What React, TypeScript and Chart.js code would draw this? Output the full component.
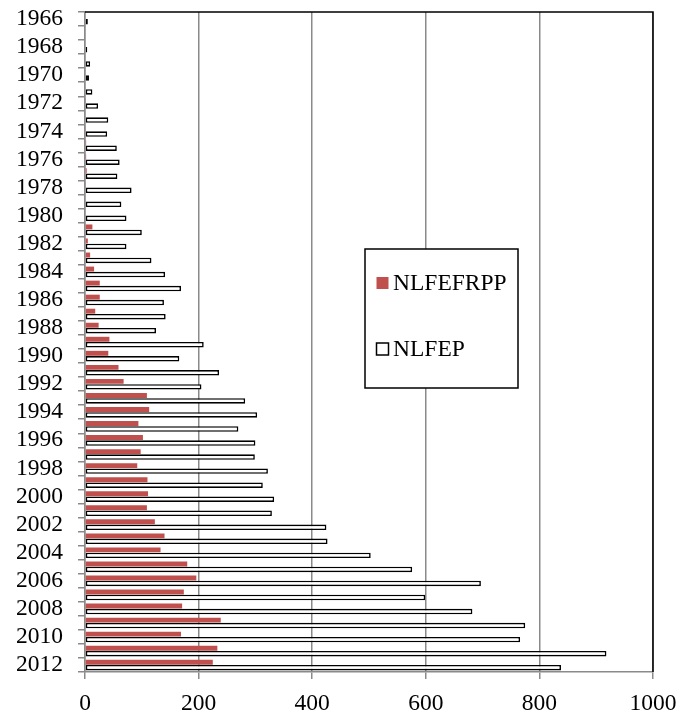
import React, { useEffect, useRef } from 'react';
import { Chart, registerables } from 'chart.js';

Chart.register(...registerables);

const years = [
  '1966', '1967', '1968', '1969', '1970', '1971', '1972', '1973', '1974', '1975',
  '1976', '1977', '1978', '1979', '1980', '1981', '1982', '1983', '1984', '1985',
  '1986', '1987', '1988', '1989', '1990', '1991', '1992', '1993', '1994', '1995',
  '1996', '1997', '1998', '1999', '2000', '2001', '2002', '2003', '2004', '2005',
  '2006', '2007', '2008', '2009', '2010', '2011', '2012',
];

const nlfefrpp = [
  0, 0, 0, 0, 0, 0, 1, 0, 1, 2,
  2, 3, 1, 0, 0, 13, 5, 9, 16, 26,
  26, 18, 24, 43, 41, 59, 68, 109, 113, 94,
  102, 98, 92, 110, 111, 109, 123, 140, 133, 180,
  196, 174, 171, 239, 169, 233, 225,
];

const nlfep = [
  5, 0, 4, 9, 7, 13, 23, 41, 39, 56,
  61, 57, 82, 64, 73, 100, 73, 117, 141, 169,
  139, 142, 125, 209, 166, 236, 205, 282, 303, 270,
  300, 299, 322, 313, 333, 329, 425, 427, 503, 576,
  697, 599, 682, 775, 766, 918, 838,
];

const xTicks = [0, 200, 400, 600, 800, 1000];

const FONT = '"Liberation Serif", "Times New Roman", serif';

const framePlugin = {
  id: 'frameAndLegend',
  afterDraw(chart: any) {
    const { ctx, chartArea } = chart;
    ctx.save();
    ctx.strokeStyle = '#000';
    ctx.lineWidth = 1.5;
    ctx.beginPath();
    ctx.moveTo(chartArea.left, chartArea.top);
    ctx.lineTo(chartArea.right, chartArea.top);
    ctx.lineTo(chartArea.right, chartArea.bottom);
    ctx.stroke();

    const bx = 365, by = 249, bw = 153, bh = 139;
    ctx.fillStyle = '#fff';
    ctx.fillRect(bx, by, bw, bh);
    ctx.strokeStyle = '#000';
    ctx.lineWidth = 1.5;
    ctx.strokeRect(bx, by, bw, bh);

    const ds = chart.data.datasets;
    const rows = [283, 349];
    ctx.font = `23.5px ${FONT}`;
    ctx.textBaseline = 'middle';
    ctx.textAlign = 'left';
    ds.forEach((d: any, i: number) => {
      const cy = rows[i];
      ctx.fillStyle = d.backgroundColor;
      ctx.fillRect(376.5, cy - 6, 12, 12);
      if (d.borderWidth) {
        ctx.strokeStyle = d.borderColor;
        ctx.lineWidth = 1.5;
        ctx.strokeRect(376.5, cy - 6, 12, 12);
      }
      ctx.fillStyle = '#000';
      ctx.fillText(d.label, 393, cy + 1);
    });
    ctx.restore();
  },
};

export default function App() {
  const ref = useRef<HTMLCanvasElement>(null);

  useEffect(() => {
    if (!ref.current) return;
    const chart = new Chart(ref.current, {
      type: 'bar',
      data: {
        labels: years,
        datasets: [
          {
            label: 'NLFEFRPP',
            data: nlfefrpp,
            backgroundColor: '#C0504D',
            borderWidth: 0,
            categoryPercentage: 0.78,
            barPercentage: 0.9,
          },
          {
            label: 'NLFEP',
            data: nlfep,
            backgroundColor: '#ffffff',
            borderColor: '#000000',
            borderWidth: 1.6,
            borderSkipped: false,
            categoryPercentage: 0.78,
            barPercentage: 1.0,
          },
        ],
      },
      options: {
        indexAxis: 'y',
        responsive: false,
        animation: false,
        layout: { padding: { top: 12, right: 37, left: 0, bottom: 0 } },
        plugins: {
          legend: { display: false },
          tooltip: { enabled: false },
        },
        scales: {
          x: {
            min: 0,
            max: 1000,
            afterBuildTicks: (s: any) => {
              s.ticks = xTicks.map((v) => ({ value: v }));
            },
            afterFit: (s: any) => {
              s.height = 42;
              s.paddingLeft = 0;
              s.paddingRight = 0;
            },
            grid: {
              color: '#8a8a8a',
              lineWidth: 1.5,
              drawTicks: true,
              tickLength: 7,
            },
            border: { color: '#8a8a8a', width: 1.5 },
            ticks: {
              color: '#000',
              font: { family: FONT, size: 23.5 },
              padding: 11,
              maxRotation: 0,
              callback: (v: any) => String(v),
            },
          },
          y: {
            afterFit: (s: any) => {
              s.width = 85;
              s.paddingTop = 0;
              s.paddingBottom = 0;
            },
            grid: {
              drawOnChartArea: false,
              drawTicks: true,
              tickLength: 7,
              color: '#8a8a8a',
              lineWidth: 1.5,
              offset: true,
            },
            border: { color: '#8a8a8a', width: 1.5 },
            ticks: {
              autoSkip: false,
              color: '#000',
              font: { family: FONT, size: 23.5 },
              padding: 15,
              callback: (_v: any, i: number) => (i % 2 === 0 ? years[i] : ''),
            },
          },
        },
      },
      plugins: [framePlugin],
    });
    return () => chart.destroy();
  }, []);

  return (
    <div style={{ position: 'absolute', left: 0, top: 0, width: 690, height: 714, background: '#fff' }}>
      <canvas ref={ref} width={690} height={714} />
    </div>
  );
}
